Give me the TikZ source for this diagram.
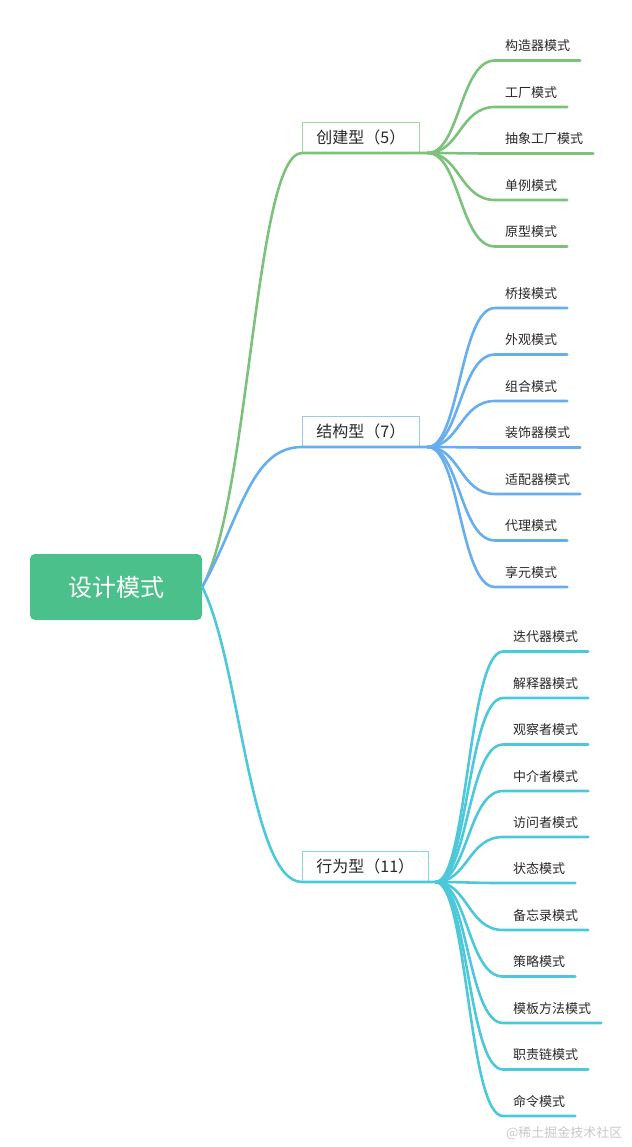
\documentclass[tikz,border=0pt]{standalone}
\usepackage{fontspec}
\setmainfont{Noto Sans CJK SC}
\usetikzlibrary{positioning}
\definecolor{rootfill}{RGB}{76,192,139}
\definecolor{creline}{RGB}{124,194,124}
\definecolor{creedge}{RGB}{165,215,165}
\definecolor{strline}{RGB}{102,174,237}
\definecolor{stredge}{RGB}{155,200,240}
\definecolor{behline}{RGB}{77,200,218}
\definecolor{behedge}{RGB}{135,215,228}
\definecolor{inktext}{RGB}{40,40,40}
\definecolor{markgray}{RGB}{200,200,200}

\begin{document}
\begin{tikzpicture}[x=1pt, y=-1pt,
    rootbox/.style={fill=rootfill, rounded corners=5pt, minimum width=172pt,
      minimum height=66pt, text=white, font=\fontsize{24}{28}\selectfont},
    branchbox/.style={draw, fill=white, line width=0.8pt, anchor=south west,
      inner xsep=14pt, minimum height=30pt, text=inktext,
      font=\fontsize{16}{19}\selectfont},
    leaf/.style={anchor=south west, inner xsep=10pt, inner ysep=9.5pt,
      text depth=0pt, text=inktext, font=\fontsize{13}{15}\selectfont},
    link/.style={line width=2.6pt, line cap=round},
    crel/.style={link, creline},
    strl/.style={link, strline},
    behl/.style={link, behline}
]
\useasboundingbox (0,0) rectangle (631,1147);

% ============ ROOT ============
\node[rootbox] (root) at (116,587) {设计模式};

% ============ BRANCHES ============
\node[branchbox, draw=creedge] (cre) at (302,153) {创建型（5）};
\node[branchbox, draw=stredge] (str) at (302,447) {结构型（7）};
\node[branchbox, draw=behedge] (beh) at (302,882) {行为型（11）};

\coordinate (creJ) at ([xshift=8pt]cre.south east);
\coordinate (strJ) at ([xshift=8pt]str.south east);
\coordinate (behJ) at ([xshift=7pt]beh.south east);

% root to branches
\draw[crel] (root.east) .. controls (250,500) and (255,153) .. (cre.south west) -- (creJ);
\draw[strl] (root.east) .. controls (240,520) and (250,447) .. (str.south west) -- (strJ);
\draw[behl] (root.east) .. controls (240,660) and (250,882) .. (beh.south west) -- (behJ);

% ============ CREATIONAL ============
\node[leaf] (c1) at (495,60.5)  {构造器模式};
\node[leaf] (c2) at (495,107)   {工厂模式};
\node[leaf] (c3) at (495,153.5) {抽象工厂模式};
\node[leaf] (c4) at (495,200)   {单例模式};
\node[leaf] (c5) at (495,246.5) {原型模式};

\foreach \n in {c1,c2,c3,c4,c5}
  \draw[crel] (creJ) .. controls +(32,0) and +(-35,0) .. (\n.south west) -- (\n.south east);

% ============ STRUCTURAL ============
\node[leaf] (s1) at (495,308)   {桥接模式};
\node[leaf] (s2) at (495,354.5) {外观模式};
\node[leaf] (s3) at (495,401)   {组合模式};
\node[leaf] (s4) at (495,447.5) {装饰器模式};
\node[leaf] (s5) at (495,494)   {适配器模式};
\node[leaf] (s6) at (495,540.5) {代理模式};
\node[leaf] (s7) at (495,587)   {享元模式};

\foreach \n in {s1,s2,s3,s4,s5,s6,s7}
  \draw[strl] (strJ) .. controls +(32,0) and +(-35,0) .. (\n.south west) -- (\n.south east);

% ============ BEHAVIORAL ============
\node[leaf] (b1)  at (503,651.5)  {迭代器模式};
\node[leaf] (b2)  at (503,698)    {解释器模式};
\node[leaf] (b3)  at (503,744.5)  {观察者模式};
\node[leaf] (b4)  at (503,791)    {中介者模式};
\node[leaf] (b5)  at (503,837)    {访问者模式};
\node[leaf] (b6)  at (503,883)    {状态模式};
\node[leaf] (b7)  at (503,930)    {备忘录模式};
\node[leaf] (b8)  at (503,976.5)  {策略模式};
\node[leaf] (b9)  at (503,1023)   {模板方法模式};
\node[leaf] (b10) at (503,1069.5) {职责链模式};
\node[leaf] (b11) at (503,1116)   {命令模式};

\foreach \n in {b1,b2,b3,b4,b5,b6,b7,b8,b9,b10,b11}
  \draw[behl] (behJ) .. controls +(32,0) and +(-35,0) .. (\n.south west) -- (\n.south east);

% watermark
\node[anchor=east, text=markgray, font=\fontsize{13}{15}\selectfont] (mark) at (626,1133) {@稀土掘金技术社区};
\end{tikzpicture}
\end{document}
